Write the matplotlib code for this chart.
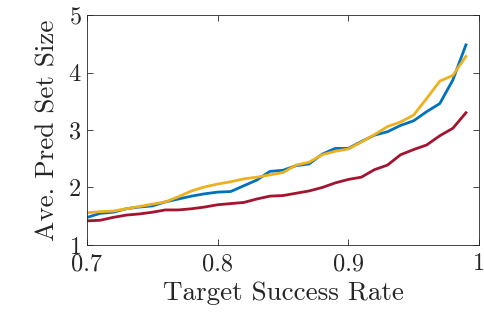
import numpy as np
import matplotlib
matplotlib.use('Agg')
import matplotlib.pyplot as plt

# целевой уровень успеха
target = np.round(np.arange(0.70, 0.995, 0.01), 2)

# средний размер множества предсказаний
blue = [1.48, 1.55, 1.57, 1.63, 1.66, 1.68, 1.75, 1.80, 1.85, 1.89,
        1.92, 1.93, 2.03, 2.13, 2.28, 2.30, 2.38, 2.41, 2.58, 2.68,
        2.68, 2.80, 2.91, 2.97, 3.08, 3.16, 3.32, 3.46, 3.87, 4.48]
yellow = [1.56, 1.58, 1.59, 1.63, 1.67, 1.71, 1.75, 1.84, 1.94, 2.01,
          2.06, 2.10, 2.15, 2.18, 2.22, 2.26, 2.39, 2.44, 2.57, 2.63,
          2.67, 2.79, 2.92, 3.06, 3.14, 3.26, 3.55, 3.85, 3.95, 4.28]
red = [1.42, 1.43, 1.48, 1.52, 1.54, 1.57, 1.61, 1.61, 1.63, 1.66,
       1.70, 1.72, 1.74, 1.80, 1.85, 1.86, 1.90, 1.94, 2.00, 2.08,
       2.14, 2.18, 2.31, 2.39, 2.57, 2.66, 2.74, 2.90, 3.03, 3.30]

plt.rcParams['font.family'] = 'cmr10'
plt.rcParams['axes.formatter.use_mathtext'] = True

fig = plt.figure(figsize=(4.85, 3.16), dpi=100)
ax = fig.add_axes([0.1794, 0.2247, 0.8082, 0.7278])

ax.plot(target, blue, color=(0, 0.447, 0.741), lw=2)
ax.plot(target, red, color=(0.635, 0.078, 0.184), lw=2)
ax.plot(target, yellow, color=(0.929, 0.694, 0.125), lw=2)

ax.set_xlim(0.7, 1)
ax.set_ylim(1, 5)
ax.set_xticks([0.7, 0.8, 0.9, 1])
ax.set_xticklabels(['0.7', '0.8', '0.9', '1'])
ax.set_yticks([1, 2, 3, 4, 5])
ax.set_xlabel('Target Success Rate', fontsize=19.5, color='#262626', labelpad=4)
ax.set_ylabel('Ave. Pred Set Size', fontsize=19.5, color='#262626', labelpad=6)
ax.tick_params(direction='in', top=True, right=True, labelsize=17.5,
               colors='#262626', length=4, width=0.6)
ax.tick_params(axis='x', pad=6)
ax.tick_params(axis='y', pad=4)
for s in ax.spines.values():
    s.set_color('#262626')
    s.set_linewidth(0.6)

fig.savefig('out.png', dpi=100)
